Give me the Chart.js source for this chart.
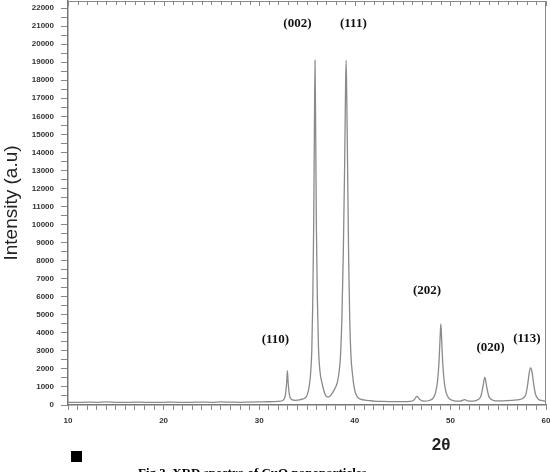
<!DOCTYPE html>
<html>
<head>
<meta charset="utf-8">
<script src="https://cdn.jsdelivr.net/npm/chart.js@4.4.1/dist/chart.umd.min.js"></script>
<style>
  html, body { margin: 0; padding: 0; background: #fff; }
  #wrap { width: 550px; height: 472px; }
</style>
</head>
<body>
<div id="wrap"><canvas id="myChart" width="550" height="472"></canvas></div>
<script>
'use strict';

// XRD pattern
let twoTheta = [10, 11, 12, 13, 14, 15, 16, 17, 18, 19, 20, 21, 22, 23, 24, 25, 26, 27, 28, 29, 30, 31, 32,
  32.5, 32.75, 32.88, 32.95, 33.02, 33.15, 33.4, 33.8, 34.2, 34.5, 34.9, 35.1, 35.25, 35.4, 35.5, 35.6, 35.7,
  35.77, 35.84, 35.91, 35.98, 36.08, 36.2, 36.35, 36.6, 36.85, 37.1, 37.4, 37.7, 38.0, 38.17, 38.35, 38.5,
  38.65, 38.8, 38.93, 39.02, 39.09, 39.16, 39.25, 39.36, 39.48, 39.6, 39.74, 39.87, 40.0, 40.26, 40.6, 41.2,
  42, 43, 44, 45, 45.8, 46.2, 46.5, 46.8, 47.2, 47.8, 48.2, 48.45, 48.65, 48.8, 48.92, 49.0, 49.08, 49.2,
  49.35, 49.55, 49.8, 50.2, 51, 51.5, 51.8, 52.4, 52.9, 53.2, 53.4, 53.6, 53.8, 54.0, 54.3, 54.7, 55.5, 56.5,
  57.2, 57.6, 57.9, 58.1, 58.25, 58.4, 58.55, 58.7, 58.9, 59.2, 59.5, 60];
let intensity = [150, 140, 160, 150, 170, 150, 140, 160, 150, 140, 150, 160, 140, 150, 160, 150, 170, 160, 150, 160, 170, 180, 200,
  260, 600, 1300, 1900, 1300, 600, 300, 260, 280, 320, 440, 700, 1100, 1900, 3000, 5600, 10000,
  15000, 19100, 15000, 10000, 6000, 3200, 1900, 1150, 650, 450, 490, 700, 1000, 1250, 1800, 2700,
  4800, 8500, 13000, 17000, 19100, 17000, 13000, 8000, 4500, 2700, 1800, 1200, 800, 450, 330, 260,
  220, 200, 190, 190, 200, 280, 480, 300, 210, 250, 380, 700, 1300, 2300, 3700, 4500, 3700, 2300,
  1300, 700, 400, 260, 210, 300, 230, 220, 300, 500, 1000, 1550, 1000, 500, 300, 230, 230, 260,
  300, 380, 600, 1200, 1800, 2050, 1800, 1200, 600, 320, 250, 200];

// peak labels (Miller indices) and where they sit, in data units
let peakNames = ['(110)', '(002)', '(111)', '(202)', '(020)', '(113)'];
let peakLabelX = [31.7, 34.0, 39.85, 47.55, 54.2, 58.0];
let peakLabelY = [3600, 21150, 21150, 6350, 3200, 3650];

// tick values
let xTickValues = [];
for (let v = 10; v <= 60; v++) xTickValues.push(v);
let yTickValues = [];
for (let v = 0; v <= 22000; v += 500) yTickValues.push(v);

let xTitle = '2θ';
let yTitle = 'Intensity (a.u)';
let caption = 'Fig 3. XRD spectra of CuO nanoparticles';

let points = [];
for (let i = 0; i < twoTheta.length; i++) {
  points.push({ x: twoTheta[i], y: intensity[i] });
}

let extras = {
  id: 'extras',
  afterDraw(chart) {
    let ctx = chart.ctx;
    let area = chart.chartArea;
    let xs = chart.scales.x;
    let ys = chart.scales.y;
    ctx.save();
    // frame: top and right
    ctx.strokeStyle = '#888';
    ctx.lineWidth = 1;
    ctx.beginPath();
    ctx.moveTo(area.left, area.top + 0.5);
    ctx.lineTo(area.right, area.top + 0.5);
    ctx.moveTo(area.right - 0.5, area.top);
    ctx.lineTo(area.right - 0.5, area.bottom);
    ctx.stroke();
    // ticks hanging from the top edge
    ctx.beginPath();
    for (let v of xTickValues) {
      let px = Math.round(xs.getPixelForValue(v)) + 0.5;
      ctx.moveTo(px, area.top);
      ctx.lineTo(px, area.top + (v % 10 === 0 ? 5 : 4));
    }
    ctx.stroke();

    // peak labels
    ctx.fillStyle = '#111';
    ctx.font = 'bold 13px "Liberation Serif", serif';
    ctx.textAlign = 'center';
    ctx.textBaseline = 'middle';
    for (let i = 0; i < peakNames.length; i++) {
      ctx.fillText(peakNames[i], xs.getPixelForValue(peakLabelX[i]), ys.getPixelForValue(peakLabelY[i]));
    }

    // x axis title
    ctx.font = 'bold 17px "Liberation Sans", sans-serif';
    ctx.fillStyle = '#222';
    ctx.fillText(xTitle, 441, 445);

    // black square marker and caption
    ctx.fillStyle = '#000';
    ctx.fillRect(71, 451, 11, 11);
    ctx.font = 'bold 13px "Liberation Serif", serif';
    ctx.textAlign = 'left';
    ctx.textBaseline = 'alphabetic';
    ctx.fillText(caption, 138, 477);
    ctx.restore();
  }
};

let chartObject = {
  type: 'line',
  data: {
    datasets: [{
      data: points,
      borderColor: '#8a8a8a',
      borderWidth: 1.3,
      pointRadius: 0,
      cubicInterpolationMode: 'monotone',
      fill: false
    }]
  },
  options: {
    responsive: false,
    animation: false,
    devicePixelRatio: 1,
    layout: { padding: { top: 1, right: 4, left: 0, bottom: 0 } },
    plugins: {
      legend: { display: false },
      tooltip: { enabled: false }
    },
    scales: {
      x: {
        type: 'linear',
        min: 10,
        max: 60,
        border: { color: '#777', width: 1.5 },
        grid: { drawOnChartArea: false, drawTicks: true, tickLength: 5, color: '#888' },
        ticks: {
          autoSkip: false,
          maxRotation: 0,
          padding: 6,
          color: '#333',
          font: { size: 8, family: '"Liberation Sans", sans-serif', weight: 'bold' },
          callback: function (value) { return value % 10 === 0 ? value : ''; }
        },
        afterBuildTicks: function (scale) {
          scale.ticks = xTickValues.map(v => ({ value: v }));
        },
        afterFit: function (scale) {
          scale.height = 67;
          scale.paddingLeft = 0;
          scale.paddingRight = 0;
        }
      },
      y: {
        min: 0,
        max: 22390,
        border: { color: '#777', width: 1.5 },
        grid: { drawOnChartArea: false, drawTicks: true, tickLength: 7, color: '#888' },
        ticks: {
          autoSkip: false,
          padding: 7,
          color: '#333',
          font: { size: 8, family: '"Liberation Sans", sans-serif', weight: 'bold' },
          callback: function (value) { return value % 1000 === 0 ? value : ''; }
        },
        afterBuildTicks: function (scale) {
          scale.ticks = yTickValues.map(v => ({ value: v }));
        },
        title: {
          display: true,
          text: yTitle,
          color: '#222',
          padding: 0,
          font: { size: 19, family: '"Liberation Sans", sans-serif' }
        },
        afterFit: function (scale) {
          scale.width = 68;
          scale.paddingTop = 0;
          scale.paddingBottom = 0;
        }
      }
    }
  },
  plugins: [extras]
};

let ctx = document.getElementById('myChart').getContext('2d');
let myChart = new Chart(ctx, chartObject);
</script>
</body>
</html>
